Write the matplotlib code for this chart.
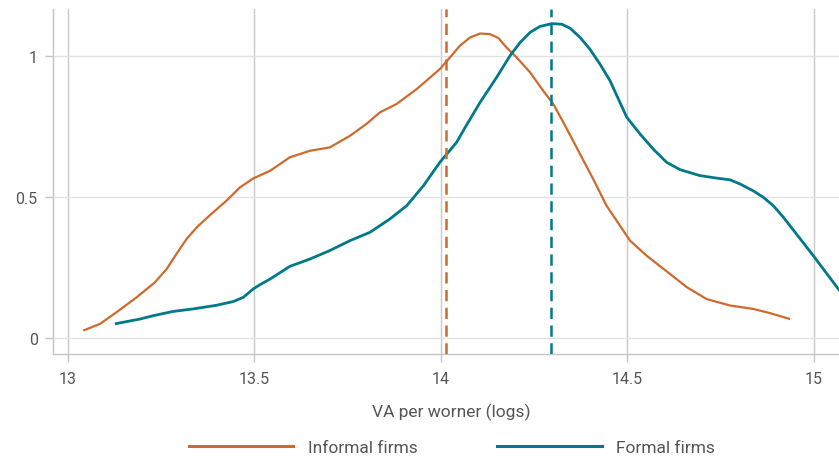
import matplotlib
matplotlib.use("Agg")
import matplotlib.pyplot as plt
from matplotlib.lines import Line2D

# Kernel density of value added per worker (log scale)
informal_x = [13.041, 13.086, 13.13, 13.184, 13.233, 13.265, 13.291, 13.318, 13.345, 13.381,
              13.425, 13.461, 13.497, 13.542, 13.595, 13.649, 13.702, 13.756, 13.80, 13.836,
              13.881, 13.935, 13.971, 13.997, 14.024, 14.051, 14.078, 14.105, 14.131, 14.154,
              14.176, 14.203, 14.239, 14.274, 14.301, 14.328, 14.373, 14.408, 14.444, 14.48,
              14.507, 14.551, 14.614, 14.659, 14.712, 14.775, 14.837, 14.882, 14.936]
informal_y = [0.026, 0.05, 0.091, 0.144, 0.197, 0.245, 0.298, 0.351, 0.392, 0.436,
              0.487, 0.534, 0.566, 0.593, 0.641, 0.664, 0.676, 0.717, 0.759, 0.80,
              0.83, 0.883, 0.924, 0.954, 0.995, 1.037, 1.066, 1.080, 1.078, 1.064,
              1.03, 0.995, 0.942, 0.877, 0.83, 0.765, 0.652, 0.564, 0.469, 0.398,
              0.345, 0.292, 0.227, 0.18, 0.138, 0.115, 0.103, 0.088, 0.067]

formal_x = [13.126, 13.193, 13.229, 13.282, 13.336, 13.399, 13.443, 13.47, 13.497, 13.515,
            13.542, 13.595, 13.649, 13.702, 13.756, 13.81, 13.863, 13.908, 13.953, 13.997,
            14.042, 14.064, 14.105, 14.149, 14.185, 14.212, 14.239, 14.265, 14.297, 14.324,
            14.346, 14.373, 14.399, 14.426, 14.453, 14.48, 14.498, 14.534, 14.569, 14.605,
            14.641, 14.694, 14.739, 14.775, 14.802, 14.837, 14.864, 14.891, 14.918, 14.998,
            15.065, 15.09]
formal_y = [0.05, 0.067, 0.079, 0.094, 0.103, 0.116, 0.129, 0.144, 0.174, 0.189,
            0.209, 0.254, 0.28, 0.31, 0.345, 0.375, 0.422, 0.469, 0.54, 0.623,
            0.694, 0.745, 0.836, 0.924, 1.001, 1.048, 1.084, 1.105, 1.115, 1.113,
            1.099, 1.066, 1.025, 0.972, 0.913, 0.835, 0.783, 0.723, 0.67, 0.623,
            0.597, 0.576, 0.567, 0.561, 0.546, 0.522, 0.499, 0.469, 0.428, 0.292,
            0.174, 0.135]

# Group means
informal_mean = 14.013
formal_mean = 14.294

x_ticks = [13, 13.5, 14, 14.5, 15]
x_tick_labels = ["13", "13.5", "14", "14.5", "15"]
y_ticks = [0, 0.5, 1]
y_tick_labels = ["0", "0.5", "1"]

series_names = ["Informal firms", "Formal firms"]

ORANGE = "#cf6a2c"
TEAL = "#00798a"
TEXT = "#555555"

plt.rcParams["font.family"] = ["Roboto", "DejaVu Sans"]

fig = plt.figure(figsize=(8.39, 4.60), dpi=100)
ax = fig.add_axes([53 / 839, 1 - 355 / 460, 1 - 53 / 839, (355 - 10) / 460])

ax.set_xlim(12.96, 15.067)
ax.set_ylim(-0.057, 1.167)

# grid: darker verticals, lighter horizontals
ax.set_axisbelow(True)
ax.grid(axis="x", color="#c9c9c9", linewidth=1.0)
ax.grid(axis="y", color="#e2e2e2", linewidth=1.0)

ax.plot(informal_x, informal_y, color=ORANGE, linewidth=1.6,
        solid_capstyle="butt", solid_joinstyle="round", zorder=3)
ax.plot(formal_x, formal_y, color=TEAL, linewidth=2.0,
        solid_capstyle="butt", solid_joinstyle="round", zorder=3)

ax.axvline(informal_mean, color=ORANGE, linewidth=1.8, dashes=(4.5, 2.6), zorder=4)
ax.axvline(formal_mean, color=TEAL, linewidth=1.8, dashes=(4.5, 2.6), zorder=4)

ax.set_xticks(x_ticks)
ax.set_xticklabels(x_tick_labels)
ax.set_yticks(y_ticks)
ax.set_yticklabels(y_tick_labels)

for side in ("top", "right"):
    ax.spines[side].set_visible(False)
for side in ("left", "bottom"):
    ax.spines[side].set_color("#c4c4c4")
    ax.spines[side].set_linewidth(1.0)

ax.tick_params(axis="both", colors="#c4c4c4", labelcolor=TEXT, labelsize=11.5,
               length=6, width=1.0)
ax.tick_params(axis="x", pad=6)
ax.tick_params(axis="y", pad=5)

ax.set_xlabel("VA per worner (logs)", color=TEXT, fontsize=12.5)
ax.xaxis.set_label_coords((451 - 53) / (839 - 53), -(412 - 355) / 345, transform=ax.transAxes)
ax.xaxis.label.set_verticalalignment("center")

handles = [Line2D([], [], color=ORANGE, linewidth=2.2),
           Line2D([], [], color=TEAL, linewidth=2.2)]
fig.legend(handles, series_names, loc="center", bbox_to_anchor=(452 / 839, 1 - 448 / 460),
           ncol=2, frameon=False, fontsize=12.5, labelcolor=TEXT,
           handlelength=6.0, handletextpad=0.85, columnspacing=4.6)

fig.savefig("out.png", dpi=100)
